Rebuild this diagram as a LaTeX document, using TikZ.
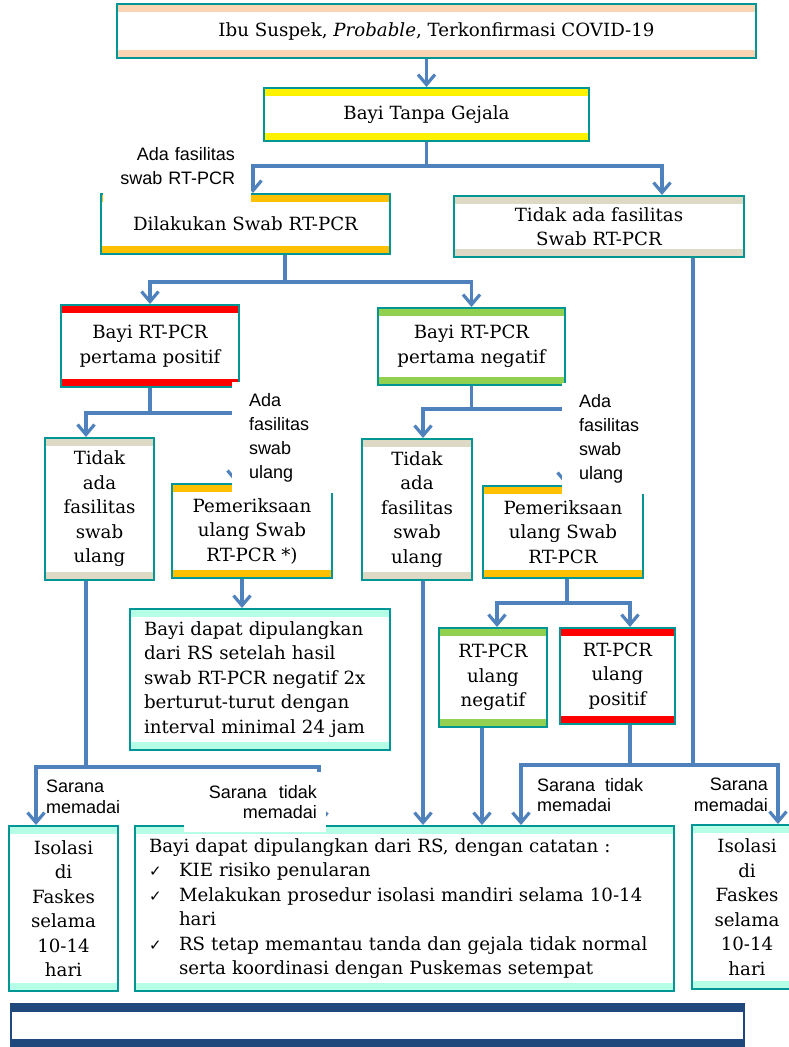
\documentclass[tikz,border=0pt]{standalone}
\usepackage{fontspec}
\setmainfont{DejaVu Serif}
\newfontfamily\lblfont{Liberation Sans}
\newfontfamily\chkfont{DejaVu Sans}
\usetikzlibrary{arrows.meta}

\definecolor{boxline}{RGB}{0,150,150}
\definecolor{flowblue}{RGB}{79,129,189}
\definecolor{peach}{RGB}{251,212,180}
\definecolor{amber}{RGB}{255,192,0}
\definecolor{khaki}{RGB}{221,217,196}
\definecolor{leaf}{RGB}{146,208,80}
\definecolor{aqua}{RGB}{180,255,230}
\definecolor{navy}{RGB}{31,73,125}

\newcommand{\chkmark}{\makebox[30pt][l]{\chkfont\fontsize{15}{15}\selectfont ✓}}

\tikzset{
  box/.style={draw=boxline, line width=2pt, fill=white, inner sep=0pt, align=center,
    font=\fontsize{18.2}{24.5}\selectfont,
    path picture={
      \fill[#1] (path picture bounding box.north west) rectangle ([yshift=-8pt]path picture bounding box.north east);
      \fill[#1] (path picture bounding box.south west) rectangle ([yshift=8pt]path picture bounding box.south east);
    }},
  wh/.style 2 args={minimum width=#1pt, minimum height=#2pt},
  conn/.style={draw=flowblue, line width=3.2pt, -{Straight Barb[length=10pt,width=17pt]}},
  flow/.style={draw=flowblue, line width=3.2pt},
  lbl/.style={font=\lblfont\fontsize{18}{24}\selectfont, inner sep=0pt},
  sar/.style={lbl, font=\lblfont\fontsize{18}{20.5}\selectfont},
  cover/.style={fill=white},
}

\begin{document}
\begin{tikzpicture}[x=1pt,y=-1pt]
\useasboundingbox (0,0) rectangle (789,1047);
\clip (0,0) rectangle (789,1047);

% Top of the flow
\node[box=peach, wh={639}{54}] (ibu) at (436.5,31) {Ibu Suspek, \textit{Probable}, Terkonfirmasi COVID-19};
\node[box=yellow, wh={325}{53}] (bayi) at (426.5,114.5) {Bayi Tanpa Gejala};

% Swab facilities
\node[box=amber, wh={289}{60}] (dil) at (245.5,224) {Dilakukan Swab RT-PCR};
\node[box=khaki, wh={290}{61}] (tidaka) at (599,226.5) {Tidak ada fasilitas\\Swab RT-PCR};

% First RT-PCR result
\node[box=red, wh={178}{82}] (pos1) at (150,346) {Bayi RT-PCR\\pertama positif};
\node[box=leaf, wh={187}{77}] (neg1) at (471.5,346.5) {Bayi RT-PCR\\pertama negatif};

% Repeat swab
\node[box=khaki, wh={109}{142}] (tidakl) at (99.5,509) {Tidak\\ada\\fasilitas\\swab\\ulang};
\node[box=amber, wh={160}{94}] (periksal) at (252,531) {Pemeriksaan\\ulang Swab\\RT-PCR *)};
\node[box=khaki, wh={110}{141}] (tidakm) at (417,509.5) {Tidak\\ada\\fasilitas\\swab\\ulang};
\node[box=amber, wh={160}{92}] (periksar) at (563,532) {Pemeriksaan\\ulang Swab\\RT-PCR};

\node[box=aqua, wh={260}{141}, align=left, text width=232pt, inner xsep=14pt] (pulang) at (260,679.5)
  {Bayi dapat dipulangkan\\dari RS setelah hasil\\swab RT-PCR negatif 2x\\berturut-turut dengan\\interval minimal 24 jam};
\node[box=leaf, wh={108}{99}] (negu) at (493,677.5) {RT-PCR\\ulang\\negatif};
\node[box=red, wh={115}{96}] (posu) at (617.5,676) {RT-PCR\\ulang\\positif};

% Outcomes
\node[box=aqua, wh={109}{165}] (isol) at (63.5,908.5) {Isolasi\\di\\Faskes\\selama\\10-14\\hari};
\node[box=aqua, wh={539}{165}, align=left, text width=511pt, inner xsep=14pt] (catat) at (404.5,908.5)
  {Bayi dapat dipulangkan dari RS, dengan catatan :\\
   \chkmark KIE risiko penularan\\
   \chkmark Melakukan prosedur isolasi mandiri selama 10-14\\
   \hspace*{30pt}hari\\
   \chkmark RS tetap memantau tanda dan gejala tidak normal\\
   \hspace*{30pt}serta koordinasi dengan Puskemas setempat};
\node[box=aqua, wh={110}{164}] (isor) at (747,907) {Isolasi\\di\\Faskes\\selama\\10-14\\hari};

% Footer bar
\node[box=navy, draw=navy, wh={733}{43}] (foot) at (377.5,1025.5) {};

% Connectors
\draw[conn] (bayi.north |- ibu.south) -- (bayi.north);
\draw[conn] (bayi.south) -- ++(0,24) coordinate (j1) -| ([xshift=7.5pt]dil.north);
\draw[conn] (j1) -| ([xshift=63pt]tidaka.north);

\draw[conn] ([xshift=39.5pt]dil.south) -- ++(0,27) coordinate (j2) -| (pos1.north);
\draw[conn] (j2) -| (neg1.north);

\draw[conn] (pos1.south) -- ++(0,25) coordinate (j3) -| ([xshift=-13.5pt]tidakl.north);
\draw[conn] (j3) -| ([xshift=-16pt]periksal.north);
\draw[conn] (neg1.south) -- ++(0,23) coordinate (j4) -| ([xshift=6pt]tidakm.north);
\draw[conn] (j4) -| ([xshift=3pt]periksar.north);

\draw[conn] ([xshift=-10pt]periksal.south) -- ([xshift=-18pt]pulang.north);
\draw[conn] ([xshift=4pt]periksar.south) -- ++(0,24) coordinate (j6) -| ([xshift=4pt]negu.north);
\draw[conn] (j6) -| ([xshift=12.5pt]posu.north);

\draw[conn] ([xshift=-13.5pt]tidakl.south) -- ++(0,186) coordinate (j5) -| ([xshift=-27.5pt]isol.north);
\draw[conn] (j5) -| ([xshift=-85.5pt]catat.north);
\draw[conn] ([xshift=6pt]tidakm.south) -- ([xshift=18.5pt]catat.north);
\draw[conn] ([xshift=-11pt]negu.south) -- ([xshift=77.5pt]catat.north);

\draw[conn] ([xshift=12.5pt]posu.south) -- ++(0,40) coordinate (j7) -| ([xshift=116.5pt]catat.north);
\draw[conn] (j7) -| ([xshift=31pt]isor.north);
\draw[flow] ([xshift=94pt]tidaka.south) |- (j7);

% Branch labels
\node[lbl, cover, align=right, text width=116pt, inner xsep=16pt, wh={148}{72}] (l1) at (177,166) {Ada fasilitas\\swab RT-PCR};
\node[lbl, cover, align=left, text width=70pt, inner xsep=17pt, wh={104}{111}] (l2) at (284,437.5) {Ada\\fasilitas\\swab\\ulang};
\node[lbl, cover, align=left, text width=62pt, inner xsep=17pt, wh={96}{111}] (l3) at (610,438.5) {Ada\\fasilitas\\swab\\ulang};
\node[sar, align=left, anchor=west] (l4) at (46,797) {Sarana\\memadai};
\node[sar, cover, align=right, text width=124pt, inner xsep=9pt, wh={142}{60}] (l5) at (255,802) {Sarana\ \ tidak\\memadai};
\node[sar, align=left, anchor=west] (l6) at (537,795) {Sarana\ \ tidak\\memadai};
\node[sar, align=right, anchor=east] (l7) at (768,795) {Sarana\\memadai};

\end{tikzpicture}
\end{document}
